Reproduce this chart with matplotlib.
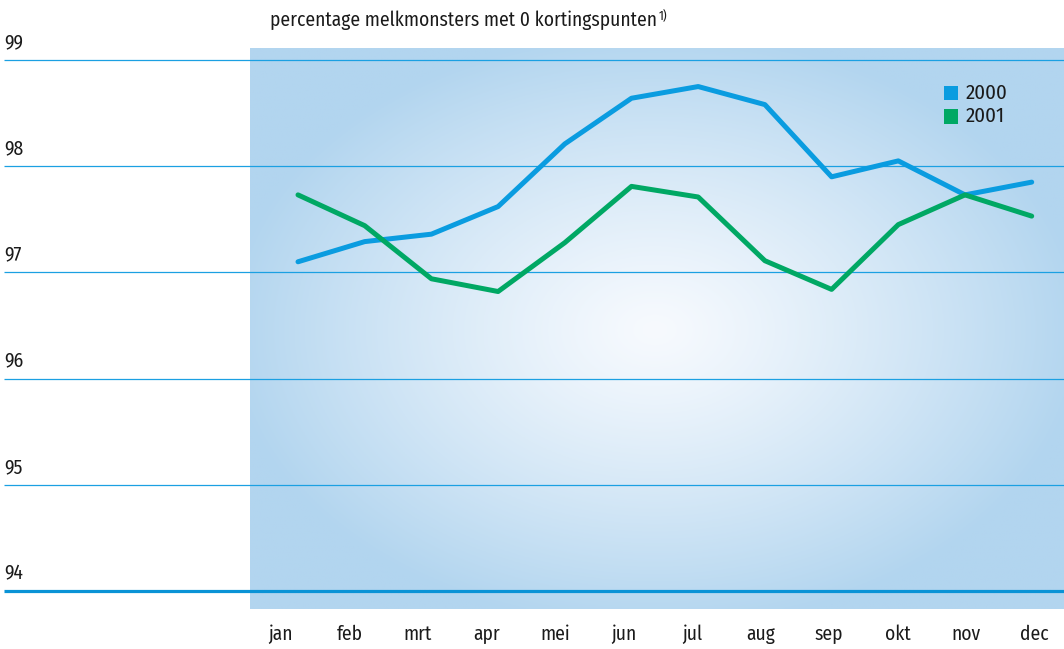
import numpy as np
import matplotlib
matplotlib.use("Agg")
import matplotlib.pyplot as plt

months = ["jan", "feb", "mrt", "apr", "mei", "jun", "jul", "aug", "sep", "okt", "nov", "dec"]
values_2000 = [97.10, 97.29, 97.36, 97.62, 98.21, 98.64, 98.75, 98.58, 97.90, 98.05, 97.73, 97.85]
values_2001 = [97.73, 97.44, 96.94, 96.82, 97.28, 97.81, 97.71, 97.11, 96.84, 97.45, 97.73, 97.53]
yticks = [94, 95, 96, 97, 98, 99]
title = "percentage melkmonsters met 0 kortingspunten"
title_note = "1)"

plt.rcParams["font.family"] = ["Fira Sans Condensed", "DejaVu Sans"]
plt.rcParams["font.weight"] = "normal"
TXT = "#1a1a1a"

W, H = 1064, 649
fig = plt.figure(figsize=(W / 100, H / 100), dpi=100)
ax = fig.add_axes([0, 0, 1, 1])

x0_px, dx_px = 298.0, 66.7
y99_px, dy_px = 60.0, 106.2
xmin = -x0_px / dx_px
xmax = (W - x0_px) / dx_px
ytop = 99 + y99_px / dy_px
ybot = 99 - (H - y99_px) / dy_px
ax.set_xlim(xmin, xmax)
ax.set_ylim(ybot, ytop)
ax.axis("off")

def px2x(p):
    return (p - x0_px) / dx_px

def py2y(p):
    return 99 - (p - y99_px) / dy_px

# gradient background
gx0, gx1 = px2x(250), px2x(W)
gy0, gy1 = py2y(609), py2y(48)
nx, ny = 400, 300
xs = np.linspace(250, W, nx)
ys = np.linspace(48, 609, ny)
XX, YY = np.meshgrid(xs, ys)
cx, cy = 655, 330
r = np.sqrt(((XX - cx) / 430) ** 2 + ((YY - cy) / 300) ** 2)
t = np.clip(r, 0, 1) ** 1.2
c_in = np.array([247, 250, 254]) / 255
c_out = np.array([178, 213, 239]) / 255
img = c_in[None, None, :] * (1 - t[..., None]) + c_out[None, None, :] * t[..., None]
ax.imshow(img, extent=[gx0, gx1, gy0, gy1], origin="upper", aspect="auto", zorder=0)

for v in yticks:
    lw = 2.3 if v == 94 else 0.9
    col = "#0a93d6" if v == 94 else "#1ba0e2"
    ax.plot([px2x(4), xmax], [v, v], color=col, lw=lw, zorder=1, solid_capstyle="butt")
    ax.text(px2x(4), v + 8 / dy_px, str(v), fontsize=14, color=TXT,
            ha="left", va="bottom", zorder=3)

x = np.arange(len(months))
ax.plot(x, values_2000, color="#0a9ce0", lw=3.6, zorder=2, solid_capstyle="round")
ax.plot(x, values_2001, color="#00a864", lw=3.6, zorder=2, solid_capstyle="round")

for i, m in enumerate(months):
    ax.text(px2x(281 + i * 68.5), py2y(634), m, fontsize=14, ha="center", va="center", color=TXT)

tt = ax.text(px2x(270), py2y(20), title, fontsize=14, ha="left", va="center", color=TXT)
fig.canvas.draw()
bb = tt.get_window_extent()
ax.annotate(title_note, xy=(bb.x1, bb.y1), xycoords="figure pixels",
            xytext=(1, 0), textcoords="offset points", fontsize=9, ha="left", va="top",
            color=TXT)

for j, (lab, col) in enumerate([("2000", "#0a9ce0"), ("2001", "#00a864")]):
    yc = 93 + j * 23.5
    ax.add_patch(plt.Rectangle((px2x(944), py2y(yc + 7)), 14 / dx_px, 14 / dy_px,
                               color=col, zorder=3, lw=0))
    ax.text(px2x(966), py2y(yc), lab, fontsize=15, ha="left", va="center", color=TXT)

fig.savefig("out.png", dpi=100)
